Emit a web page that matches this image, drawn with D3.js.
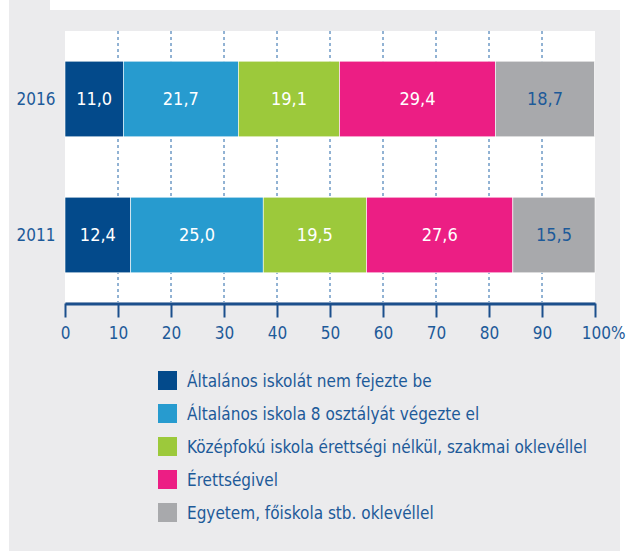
<!DOCTYPE html>
<html>
<head>
<meta charset="utf-8">
<script src="https://cdn.jsdelivr.net/npm/d3@7"></script>
<style>
  body { margin: 0; background: #fff; }
  svg text { font-family: "Liberation Sans Narrow", "DejaVu Sans Condensed", "Roboto", sans-serif; font-stretch: condensed; }
</style>
</head>
<body>
<svg id="chart" width="630" height="551"></svg>
<script>
// adatok
const years = ["2016", "2011"];
const categories = [
  "Általános iskolát nem fejezte be",
  "Általános iskola 8 osztályát végezte el",
  "Középfokú iskola érettségi nélkül, szakmai oklevéllel",
  "Érettségivel",
  "Egyetem, főiskola stb. oklevéllel"
];
const values2016 = [11.0, 21.7, 19.1, 29.4, 18.7];
const values2011 = [12.4, 25.0, 19.5, 27.6, 15.5];
const tickValues = [0, 10, 20, 30, 40, 50, 60, 70, 80, 90, 100];
const colors = ["#034a8b", "#279bcf", "#9cc93b", "#ec1e84", "#a8a9ac"];
const labelColors = ["#fff", "#fff", "#fff", "#fff", "#1d5a99"];

const textBlue = "#1d5a99";
const axisBlue = "#1b4f8c";

const svg = d3.select("#chart");

// háttér
svg.append("rect").attr("x", 9).attr("y", 0).attr("width", 41).attr("height", 12).attr("fill", "#ebebed");
svg.append("rect").attr("x", 9).attr("y", 10).attr("width", 611).attr("height", 541).attr("fill", "#ebebed");

const plot = {left: 65, right: 595, top: 31, bottom: 302};
svg.append("rect")
  .attr("x", plot.left).attr("y", plot.top)
  .attr("width", plot.right - plot.left).attr("height", plot.bottom - plot.top)
  .attr("fill", "#fff");

const x = d3.scaleLinear().domain([0, 100]).range([plot.left, plot.right]);
const y = d3.scaleBand().domain(years).range([plot.top, plot.bottom + 1])
  .paddingInner(0.444).paddingOuter(0.222);

// szaggatott rácsvonalak
svg.append("g").selectAll("line")
  .data(tickValues.filter(t => t > 0 && t < 100))
  .join("line")
  .attr("x1", d => x(d)).attr("x2", d => x(d))
  .attr("y1", plot.top).attr("y2", plot.bottom)
  .attr("stroke", "#2566a8")
  .attr("stroke-width", 1)
  .attr("stroke-dasharray", "3,3");

// stacked bars
const rows = years.map((yr, i) => {
  const vals = i === 0 ? values2016 : values2011;
  const row = {year: yr};
  categories.forEach((c, j) => row[c] = vals[j]);
  return row;
});
const series = d3.stack().keys(categories)(rows);

const layers = svg.append("g").selectAll("g")
  .data(series)
  .join("g")
  .attr("fill", (d, i) => colors[i]);

layers.selectAll("rect")
  .data(d => d)
  .join("rect")
  .attr("x", d => x(d[0]))
  .attr("y", d => y(d.data.year))
  .attr("width", d => x(d[1]) - x(d[0]))
  .attr("height", y.bandwidth())
  .attr("stroke", "#fff")
  .attr("stroke-width", 0.6);

layers.each(function(s, i) {
  d3.select(this).selectAll("text")
    .data(s)
    .join("text")
    .attr("x", d => (x(d[0]) + x(d[1])) / 2)
    .attr("y", d => y(d.data.year) + y.bandwidth() / 2)
    .attr("dy", "0.36em")
    .attr("text-anchor", "middle")
    .attr("font-size", 18)
    .attr("fill", labelColors[i])
    .text(d => d3.format(".1f")(d[1] - d[0]).replace(".", ","));
});

// évek
svg.append("g").selectAll("text")
  .data(years)
  .join("text")
  .attr("x", 36)
  .attr("y", d => y(d) + y.bandwidth() / 2)
  .attr("dy", "0.36em")
  .attr("text-anchor", "middle")
  .attr("font-size", 17)
  .attr("fill", textBlue)
  .text(d => d);

// tengely
const axis = svg.append("g")
  .attr("transform", "translate(0,303.5)")
  .call(d3.axisBottom(x)
    .tickValues(tickValues)
    .tickSize(14)
    .tickSizeOuter(0)
    .tickPadding(9)
    .tickFormat(d => d === 100 ? "100%" : d));
axis.select(".domain").attr("stroke", axisBlue).attr("stroke-width", 3);
axis.selectAll(".tick line").attr("stroke", axisBlue).attr("stroke-width", 2);
axis.selectAll(".tick text")
  .attr("font-size", 17)
  .attr("fill", textBlue)
  .attr("font-family", null);
axis.selectAll(".tick").filter(d => d === 100).select("text")
  .attr("text-anchor", "end").attr("dx", 30);

// jelmagyarázat
const legend = svg.append("g").selectAll("g")
  .data(categories)
  .join("g")
  .attr("transform", (d, i) => "translate(158," + (371 + i * 33) + ")");
legend.append("rect")
  .attr("width", 19).attr("height", 19)
  .attr("fill", (d, i) => colors[i]);
legend.append("text")
  .attr("x", 29).attr("y", 9.5)
  .attr("dy", "0.36em")
  .attr("font-size", 17)
  .attr("fill", textBlue)
  .text(d => d);
</script>
</body>
</html>
